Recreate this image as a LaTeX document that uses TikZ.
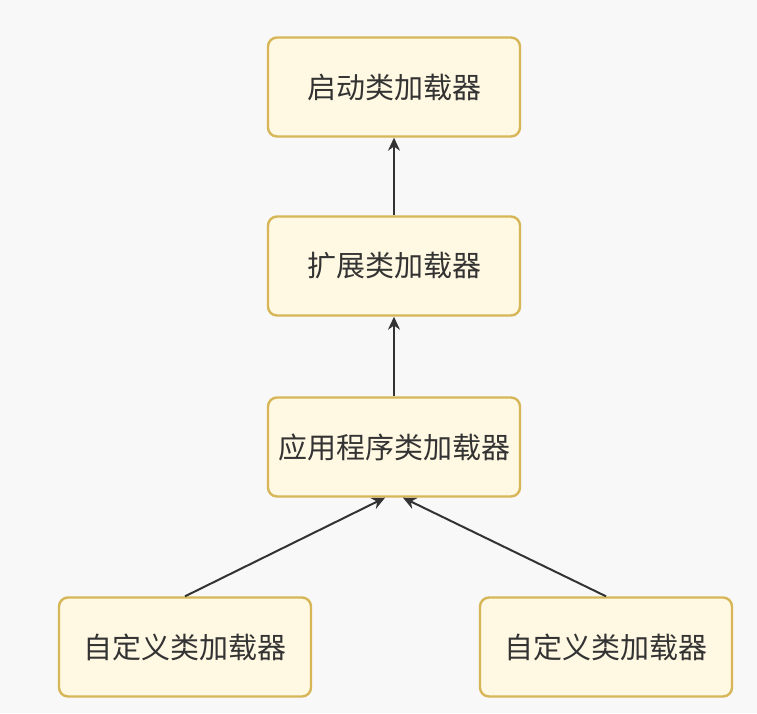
\documentclass[tikz,border=0pt]{standalone}
\usepackage{fontspec}
\setmainfont{Noto Sans CJK SC}
\usepackage{tikz}
\usetikzlibrary{shapes,arrows.meta}
\definecolor{boxline}{HTML}{D6B656}
\definecolor{boxfill}{HTML}{FFF8E2}
\definecolor{inkgray}{HTML}{333333}
\definecolor{paper}{HTML}{F8F8F8}
\tikzstyle{block} = [rectangle, draw=boxline, fill=boxfill, line width=2.4pt,
    minimum width=252pt, minimum height=99pt, rounded corners=9pt,
    text=inkgray, font=\fontsize{29pt}{32pt}\selectfont, inner sep=0pt]
\tikzstyle{arrow} = [draw=inkgray, -{Stealth[length=13pt,width=12pt]}, line width=2pt]
\begin{document}
\begin{tikzpicture}[node distance=180pt, auto]
    % background
    \fill[paper] (0pt,0pt) rectangle (757pt,-713pt);
    \useasboundingbox (0pt,0pt) rectangle (757pt,-713pt);
    % Place nodes
    \node [block] at (394pt,-87pt) (bootLoader) {启动类加载器};
    \node [block, below of=bootLoader, node distance=179pt] (extLoader) {扩展类加载器};
    \node [block, below of=extLoader, node distance=181pt] (appLoader) {应用程序类加载器};
%
    \node [block, below of=appLoader, node distance=200pt, xshift=-209pt] (customLeft) {自定义类加载器};
    \node [block, below of=appLoader, node distance=200pt, xshift=212pt] (customRight) {自定义类加载器};
    \path [arrow] (extLoader) -- (bootLoader);
    \path [arrow] (appLoader) -- (extLoader);

    \path [arrow] (customLeft.north) -- ([xshift=-9pt]appLoader.south);
    \path [arrow] (customRight.north) -- ([xshift=9pt]appLoader.south);
\end{tikzpicture}
\end{document}
